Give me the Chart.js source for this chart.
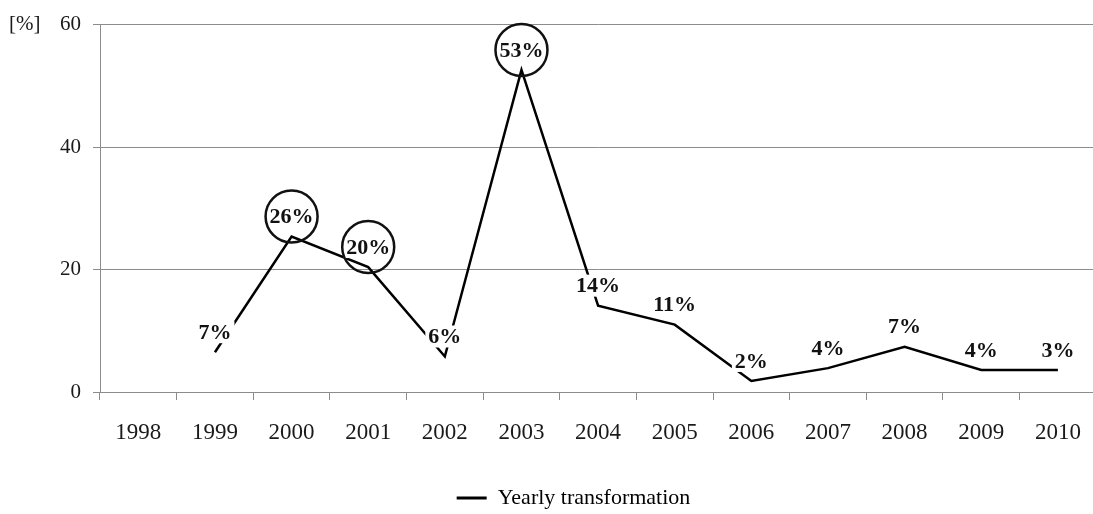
<!DOCTYPE html>
<html>
<head>
<meta charset="utf-8">
<script src="https://cdn.jsdelivr.net/npm/chart.js@4.4.1/dist/chart.umd.min.js"></script>
<style>
  html, body { margin: 0; padding: 0; background: #fff; overflow: hidden; }
  #wrap { position: relative; width: 1100px; height: 514px; overflow: hidden; }
</style>
</head>
<body>
<div id="wrap"><canvas id="c" width="1100" height="519"></canvas></div>
<script>
// ---- data ----
const years = ['1998','1999','2000','2001','2002','2003','2004','2005','2006','2007','2008','2009','2010'];
const yearlyTransformation = [null, 6.5, 25.4, 20.4, 5.8, 52.6, 14.1, 11.0, 1.8, 3.9, 7.4, 3.6, 3.6];
const pointLabels = ['', '7%', '26%', '20%', '6%', '53%', '14%', '11%', '2%', '4%', '7%', '4%', '3%'];
const circledYears = ['2000', '2001', '2003'];
const yTicks = [0, 20, 40, 60];
const seriesName = 'Yearly transformation';
const yUnit = '[%]';

const SERIF = '"Liberation Serif", "Times New Roman", serif';
const GRID = '#8c8c8c';

const labelPlugin = {
  id: 'pointLabels',
  afterDatasetsDraw(chart) {
    const ctx = chart.ctx;
    const meta = chart.getDatasetMeta(0);
    ctx.save();
    ctx.font = 'bold 22px ' + SERIF;
    ctx.textAlign = 'center';
    ctx.textBaseline = 'middle';
    meta.data.forEach((pt, i) => {
      const v = yearlyTransformation[i];
      if (v === null || v === undefined) return;
      const txt = pointLabels[i];
      const x = pt.x;
      const y = pt.y - 20;
      const w = ctx.measureText(txt).width;
      ctx.fillStyle = '#ffffff';
      ctx.fillRect(x - w / 2 - 3, y - 11, w + 6, 22);
      ctx.fillStyle = '#111111';
      ctx.fillText(txt, x, y + 1);
      if (circledYears.includes(years[i])) {
        ctx.beginPath();
        ctx.lineWidth = 2.5;
        ctx.strokeStyle = '#111111';
        ctx.arc(x, y, 26, 0, Math.PI * 2);
        ctx.stroke();
      }
    });
    // unit label
    ctx.font = '21px ' + SERIF;
    ctx.fillStyle = '#1a1a1a';
    ctx.textAlign = 'left';
    ctx.fillText(yUnit, 9, chart.scales.y.getPixelForValue(60));
    ctx.restore();
  }
};

new Chart(document.getElementById('c'), {
  type: 'line',
  data: {
    labels: years,
    datasets: [{
      label: seriesName,
      data: yearlyTransformation,
      borderColor: '#000000',
      backgroundColor: '#000000',
      borderWidth: 2.5,
      pointRadius: 0,
      tension: 0,
      spanGaps: false
    }]
  },
  options: {
    responsive: false,
    animation: false,
    layout: { padding: { top: 13, right: 3, left: 50, bottom: 0 } },
    plugins: {
      tooltip: { enabled: false },
      legend: {
        position: 'bottom',
        labels: {
          font: { family: SERIF, size: 22 },
          color: '#1a1a1a',
          boxWidth: 30,
          boxHeight: 3,
          padding: 10,
          generateLabels(chart) {
            return [{ text: seriesName, fillStyle: '#000', strokeStyle: '#000', lineWidth: 0, datasetIndex: 0 }];
          }
        }
      }
    },
    scales: {
      x: {
        offset: true,
        afterFit(scale) { scale.height = 85; },
        grid: { display: true, drawOnChartArea: false, drawTicks: true, tickLength: 8, color: GRID, offset: true },
        border: { color: GRID, width: 1 },
        ticks: { font: { family: SERIF, size: 23 }, color: '#1a1a1a', padding: 19, maxRotation: 0, autoSkip: false }
      },
      y: {
        min: 0, max: 60,
        afterBuildTicks(scale) { scale.ticks = yTicks.map(v => ({ value: v })); },
        afterFit(scale) { scale.width = 50; },
        grid: { color: GRID, tickLength: 7, drawTicks: true },
        border: { color: GRID, width: 1 },
        ticks: { font: { family: SERIF, size: 21 }, color: '#1a1a1a', padding: 12 }
      }
    }
  },
  plugins: [labelPlugin]
});
</script>
</body>
</html>
